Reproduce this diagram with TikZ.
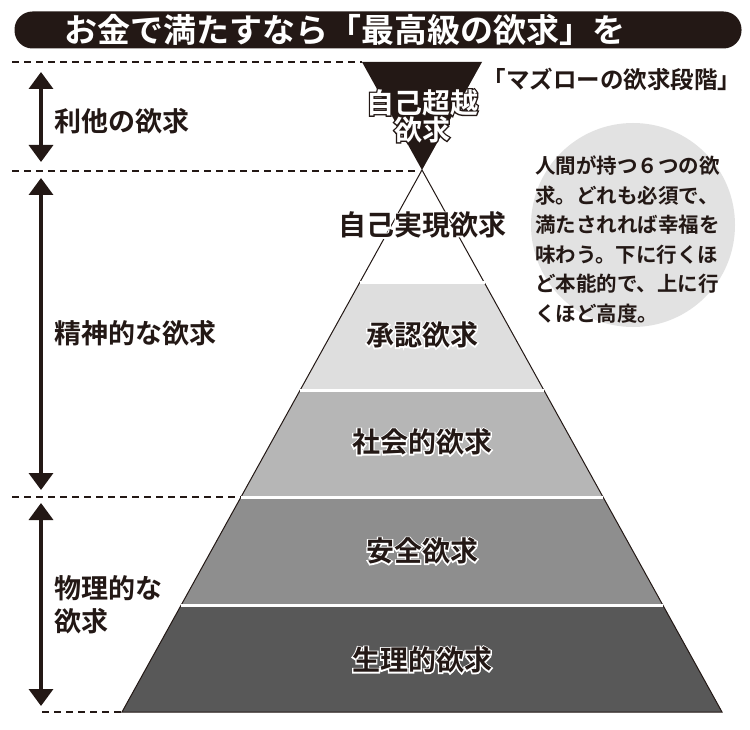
\documentclass[tikz,border=0pt]{standalone}
\usepackage{fontspec}
\usetikzlibrary{arrows.meta}
\newfontfamily\jp{Noto Sans CJK JP}[BoldFont={Noto Sans CJK JP Bold}]
\newfontfamily\jphalo{Noto Sans CJK JP Bold}[FakeBold=9]
\definecolor{ink}{HTML}{231815}
\definecolor{lay1}{HTML}{DEDEDE}
\definecolor{lay2}{HTML}{B6B6B6}
\definecolor{lay3}{HTML}{8E8E8E}
\definecolor{lay4}{HTML}{585858}
\definecolor{circ}{HTML}{E2E2E2}
\newcommand\halolabel[5]{% name, position, text, fg, bg
  \node[pyrlabel,font=\jphalo\fontsize{28}{30}\selectfont,text=#5] (#1h) at (#2) {#3};
  \node[pyrlabel,text=#4] (#1) at (#2) {#3};}
\tikzset{
  pyrlabel/.style={font=\jp\bfseries\fontsize{28}{30}\selectfont,inner sep=0pt,align=center},
  sidelabel/.style={font=\jp\bfseries\fontsize{27}{33}\selectfont,text=ink,inner sep=0pt,anchor=west,align=left},
  circlabel/.style={font=\jp\bfseries\fontsize{20.5}{22}\selectfont,text=ink,inner sep=0pt,anchor=west},
  guide/.style={ink,line width=2pt,dash pattern=on 7pt off 5pt},
  span/.style={ink,line width=3.5pt,{Triangle[width=24pt,length=17pt]}-{Triangle[width=24pt,length=17pt]}},
  sep/.style={white,line width=3pt}
}
\begin{document}
\begin{tikzpicture}[x=1pt,y=-1pt]
\useasboundingbox (0,0) rectangle (750,730);
\fill[white] (0,0) rectangle (750,730);
% title
\node[fill=ink,rounded corners=18pt,minimum width=727pt,minimum height=37pt,inner sep=0pt] (bar) at (378,30) {};
\node[font=\jp\bfseries\fontsize{33}{36}\selectfont,text=white,inner sep=0pt] (title) at (345,30) {お金で満たすなら「最高級の欲求」を};
\node[font=\jp\fontsize{23.5}{26}\selectfont\bfseries,text=ink,inner sep=0pt] (maslow) at (612,79) {「マズローの欲求段階」};
% guides
\coordinate (g1a) at (12,62); \coordinate (g1b) at (362,62);
\coordinate (g2a) at (12,171); \coordinate (g2b) at (420,171);
\coordinate (g3a) at (12,497); \coordinate (g3b) at (241,497);
\coordinate (g4a) at (42,712); \coordinate (g4b) at (122,712);
\draw[guide] (g1a) -- (g1b);
\draw[guide] (g2a) -- (g2b);
\draw[guide] (g3a) -- (g3b);
\draw[guide] (g4a) -- (g4b);
% circle
\node[circle,fill=circ,minimum size=204pt,inner sep=0pt] (note) at (633,225) {};
\node[circlabel] (c1) at (535,166) {人間が持つ６つの欲};
\node[circlabel] (c2) at (535,195.5) {求。どれも必須で、};
\node[circlabel] (c3) at (535,225) {満たされれば幸福を};
\node[circlabel] (c4) at (535,254.5) {味わう。下に行くほ};
\node[circlabel] (c5) at (535,284) {ど本能的で、上に行};
\node[circlabel] (c6) at (535,313.5) {くほど高度。};
% pyramid
\coordinate (apex) at (422,170);
\fill[lay1] (359.5,283) -- (484.5,283) -- (543.8,390) -- (300.2,390) -- cycle;
\fill[lay2] (300.2,390) -- (543.8,390) -- (603,497) -- (241,497) -- cycle;
\fill[lay3] (241,497) -- (603,497) -- (662.8,605) -- (181.2,605) -- cycle;
\fill[lay4] (181.2,605) -- (662.8,605) -- (722,712) -- (122,712) -- cycle;
\draw[ink,line width=1pt] (apex) -- (722,712) -- (122,712) -- cycle;
\draw[sep] (359.5,283) -- (484.5,283);
\draw[sep] (300.2,390) -- (543.8,390);
\draw[sep] (241,497) -- (603,497);
\draw[sep] (181.2,605) -- (662.8,605);
% inverted triangle
\fill[ink] (362,62) -- (482,62) -- (apex) -- cycle;
% pyramid labels
\halolabel{top}{422,116}{自己超越\\[-3pt]欲求}{white}{ink}
\halolabel{self}{422,225}{自己実現欲求}{ink}{white}
\halolabel{esteem}{422,335}{承認欲求}{ink}{white}
\halolabel{social}{422,442}{社会的欲求}{ink}{white}
\halolabel{safety}{422,551}{安全欲求}{ink}{white}
\halolabel{phys}{422,660}{生理的欲求}{ink}{white}
% spans
\coordinate (s1a) at (41,72); \coordinate (s1b) at (41,162);
\coordinate (s2a) at (41,178); \coordinate (s2b) at (41,490);
\coordinate (s3a) at (41,503); \coordinate (s3b) at (41,706);
\draw[span] (s1a) -- (s1b);
\draw[span] (s2a) -- (s2b);
\draw[span] (s3a) -- (s3b);
\node[sidelabel] (l1) at (54,121) {利他の欲求};
\node[sidelabel] (l2) at (54,333) {精神的な欲求};
\node[sidelabel] (l3) at (54,605) {物理的な\\欲求};
\end{tikzpicture}
\end{document}
